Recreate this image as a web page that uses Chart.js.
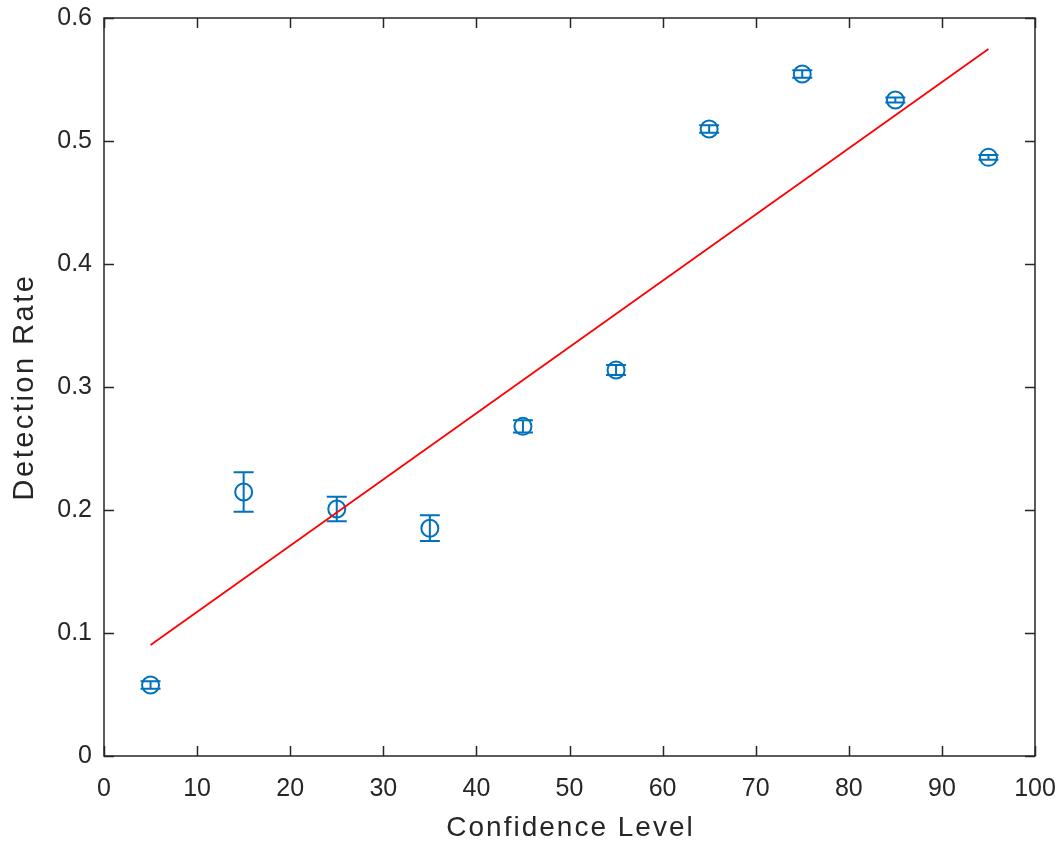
<!DOCTYPE html>
<html>
<head>
<meta charset="utf-8">
<script src="https://cdn.jsdelivr.net/npm/chart.js@4.4.1/dist/chart.umd.min.js"></script>
<style>
    html, body { margin: 0; padding: 0; background: #fff; }
    #wrap { width: 1060px; height: 843px; }
</style>
</head>
<body>
<div id="wrap"><canvas id="chart" width="1060" height="843"></canvas></div>
<script>
// ─── Data ───
const confidence = [5, 15, 25, 35, 45, 55, 65, 75, 85, 95];
const detection = [0.0577, 0.2146, 0.2008, 0.1852, 0.2680, 0.3138, 0.5098, 0.5545, 0.5333, 0.4867];
const errLow = [0.003, 0.016, 0.010, 0.0105, 0.005, 0.004, 0.003, 0.003, 0.002, 0.002];
const errHigh = [0.003, 0.016, 0.010, 0.0105, 0.005, 0.004, 0.003, 0.003, 0.002, 0.002];
const fitX = [5, 95];
const fitY = [0.0902, 0.5748];
const xTitle = 'Confidence Level';
const yTitle = 'Detection Rate';

const BLUE = '#0072BD';
const AXIS = '#262626';
const FONT = '"Liberation Sans", Arial, Helvetica, sans-serif';

// error bars, drawn through the scales
const errorBars = {
    id: 'errorBars',
    beforeDatasetsDraw(chart) {
        const { ctx, scales: { x, y } } = chart;
        ctx.save();
        ctx.strokeStyle = BLUE;
        ctx.lineWidth = 2;
        confidence.forEach((c, i) => {
            const px = x.getPixelForValue(c);
            const top = y.getPixelForValue(detection[i] + errHigh[i]);
            const bot = y.getPixelForValue(detection[i] - errLow[i]);
            ctx.beginPath();
            ctx.moveTo(px, top); ctx.lineTo(px, bot);
            ctx.moveTo(px - 10, top); ctx.lineTo(px + 10, top);
            ctx.moveTo(px - 10, bot); ctx.lineTo(px + 10, bot);
            ctx.stroke();
        });
        ctx.restore();
    },
};

// MATLAB-style box with inward ticks, plus axis titles
const axesBox = {
    id: 'axesBox',
    afterDraw(chart) {
        const { ctx, chartArea: a, scales: { x, y } } = chart;
        ctx.save();
        ctx.strokeStyle = AXIS;
        ctx.lineWidth = 1.5;
        ctx.strokeRect(a.left, a.top, a.right - a.left, a.bottom - a.top);
        ctx.beginPath();
        x.ticks.forEach(t => {
            const px = Math.round(x.getPixelForValue(t.value)) + 0.5;
            ctx.moveTo(px, a.bottom); ctx.lineTo(px, a.bottom - 10);
            ctx.moveTo(px, a.top); ctx.lineTo(px, a.top + 10);
        });
        y.ticks.forEach(t => {
            const py = Math.round(y.getPixelForValue(t.value)) + 0.5;
            ctx.moveTo(a.left, py); ctx.lineTo(a.left + 10, py);
            ctx.moveTo(a.right, py); ctx.lineTo(a.right - 10, py);
        });
        ctx.stroke();

        // titles
        ctx.fillStyle = AXIS;
        ctx.textAlign = 'center';
        ctx.textBaseline = 'middle';
        ctx.font = `28px ${FONT}`;
        ctx.letterSpacing = '2px';
        ctx.fillText(xTitle, (a.left + a.right) / 2 + 1, 828);
        ctx.translate(25, (a.top + a.bottom) / 2);
        ctx.rotate(-Math.PI / 2);
        ctx.font = `29px ${FONT}`;
        ctx.letterSpacing = '2.5px';
        ctx.fillText(yTitle, 0, 0);
        ctx.restore();
    },
};

new Chart(document.getElementById('chart').getContext('2d'), {
    type: 'scatter',
    data: {
        datasets: [
            {
                type: 'line',
                label: 'fit',
                data: fitX.map((v, i) => ({ x: v, y: fitY[i] })),
                borderColor: '#FF0000',
                borderWidth: 1.8,
                pointRadius: 0,
                fill: false,
                order: 0,
            },
            {
                label: 'measured',
                data: confidence.map((v, i) => ({ x: v, y: detection[i] })),
                pointStyle: 'circle',
                pointRadius: 8.5,
                pointBorderWidth: 2,
                pointBorderColor: BLUE,
                pointBackgroundColor: 'rgba(0,0,0,0)',
                showLine: false,
                order: 1,
            },
        ],
    },
    options: {
        responsive: false,
        animation: false,
        layout: { padding: { top: 18, right: 25, bottom: 0, left: 0 } },
        plugins: {
            legend: { display: false },
            tooltip: { enabled: false },
        },
        scales: {
            x: {
                type: 'linear',
                min: 0, max: 100,
                ticks: {
                    stepSize: 10,
                    color: AXIS,
                    padding: 18,
                    font: { family: FONT, size: 25 },
                },
                grid: { display: false, drawTicks: false },
                border: { display: false },
                afterFit: (s) => { s.height = 87; s.paddingLeft = 0; s.paddingRight = 0; },
            },
            y: {
                type: 'linear',
                min: 0, max: 0.6,
                ticks: {
                    stepSize: 0.1,
                    color: AXIS,
                    padding: 12,
                    font: { family: FONT, size: 25 },
                    callback: (v) => String(+v.toFixed(1)),
                },
                grid: { display: false, drawTicks: false },
                border: { display: false },
                afterFit: (s) => { s.width = 104; s.paddingTop = 0; s.paddingBottom = 0; },
            },
        },
    },
    plugins: [errorBars, axesBox],
});
</script>
</body>
</html>
